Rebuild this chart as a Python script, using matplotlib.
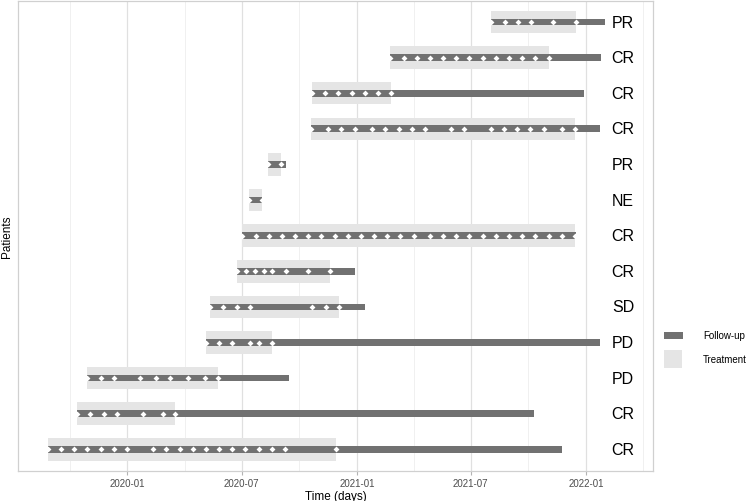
import numpy as np
import matplotlib
matplotlib.use("Agg")
import matplotlib.pyplot as plt
import matplotlib.dates as mdates
from matplotlib.patches import Rectangle

plt.rcParams['font.family'] = ['Liberation Sans', 'DejaVu Sans']

# ---- data (bottom row first) ----
responses = ["CR", "CR", "PD", "PD", "SD", "CR", "CR", "NE", "PR", "CR", "CR", "CR", "PR"]
start_dates = ["2019-08-27", "2019-10-13", "2019-10-29", "2020-05-05", "2020-05-12",
               "2020-06-24", "2020-07-02", "2020-07-12", "2020-08-12", "2020-10-19",
               "2020-10-21", "2021-02-23", "2021-08-03"]
# dose days relative to each patient's first dose
dose_days = [
    [0, 21, 42, 63, 84, 105, 126, 168, 189, 210, 231, 252, 273, 294, 315, 336, 357, 378, 460],
    [0, 21, 42, 63, 105, 136, 156],
    [0, 21, 42, 84, 110, 131, 160, 188, 209],
    [0, 21, 42, 70, 84, 105],
    [0, 21, 42, 63, 162, 184, 205],
    [0, 14, 28, 42, 56, 77, 112, 147],
    [0, 21, 42, 63, 84, 105, 126, 147, 168, 189, 210, 231, 252, 273,
     299, 320, 341, 362, 383, 404, 425, 446, 467, 488, 509, 530],
    [0, 21],
    [0, 20],
    [0, 28, 49, 70, 98, 119, 140, 161, 182, 224, 245, 287, 308, 329, 350, 372, 400, 421],
    [0, 21, 42, 63, 84, 105, 126],
    [0, 21, 42, 63, 84, 105, 126, 147, 168, 189, 210, 231, 252],
    [0, 21, 42, 63, 98, 134],
]
followup_days = [820, 728, 322, 628, 246, 187, 531, 21, 29, 461, 433, 336, 181]

major_ticks = ["2020-01-01", "2020-07-01", "2021-01-01", "2021-07-01", "2022-01-01"]
major_labels = ["2020-01", "2020-07", "2021-01", "2021-07", "2022-01"]

# ---- figure ----
fig = plt.figure(figsize=(7.5, 5.02), dpi=100)
ax = fig.add_axes([0.0244, 0.0604, 0.8459, 0.9362])

dark = "#717171"
light = "#E5E5E5"

def d2n(s):
    return mdates.date2num(np.datetime64(s))

ys = np.arange(1, len(responses) + 1)
for y, s, doses, fu in zip(ys, start_dates, dose_days, followup_days):
    x0 = d2n(s)
    ax.barh(y, max(doses), left=x0, height=0.63, color=light, zorder=2, linewidth=0)
    ax.barh(y, fu, left=x0, height=0.19, color=dark, zorder=3, linewidth=0)
    ax.scatter(x0 + np.array(doses), np.full(len(doses), y), marker="D", s=9,
               color="white", linewidths=0, zorder=4)

label_x = d2n("2022-03-01")
for y, r in zip(ys, responses):
    ax.text(label_x, y, r, ha="center", va="center", fontsize=11.5, color="black", zorder=5)

# axes limits
ax.set_xlim(d2n("2019-07-11"), d2n("2022-04-17"))
ax.set_ylim(0.4, len(responses) + 0.6)

# grid
majors = [d2n(t) for t in major_ticks]
step = majors[1] - majors[0]
minors = [majors[0] - step / 2] + [(a + b) / 2 for a, b in zip(majors[:-1], majors[1:])] + [majors[-1] + step / 2]
for m in majors:
    ax.axvline(m, color="#E0E0E0", lw=0.9, zorder=0)
for m in minors:
    ax.axvline(m, color="#EEEEEE", lw=0.6, zorder=0)

ax.set_xticks(majors)
ax.set_xticklabels(major_labels)
ax.tick_params(axis="x", length=3, width=0.8, color="#B3B3B3", labelsize=7, labelcolor="#4D4D4D", pad=2)
ax.set_yticks([])
for sp in ax.spines.values():
    sp.set_color("#D0D0D0")
    sp.set_linewidth(0.9)

ax.set_xlabel("Time (days)", fontsize=8.5, labelpad=2)
ax.set_ylabel("Patients", fontsize=8.5, labelpad=4)

# legend (manual)
W, H = 750, 502
def fx(px):
    return px / W
def fy(py):
    return 1 - py / H
fig.add_artist(Rectangle((fx(664), fy(340)), 19 / W, 7 / H, transform=fig.transFigure,
                         facecolor=dark, edgecolor="none"))
fig.add_artist(Rectangle((fx(664), fy(369)), 18 / W, 18 / H, transform=fig.transFigure,
                         facecolor=light, edgecolor="none"))
fig.text(fx(703), fy(336.5), "Follow-up", fontsize=7, va="center", ha="left")
fig.text(fx(703), fy(360), "Treatment", fontsize=7, va="center", ha="left")

fig.savefig("out.png", dpi=100)
